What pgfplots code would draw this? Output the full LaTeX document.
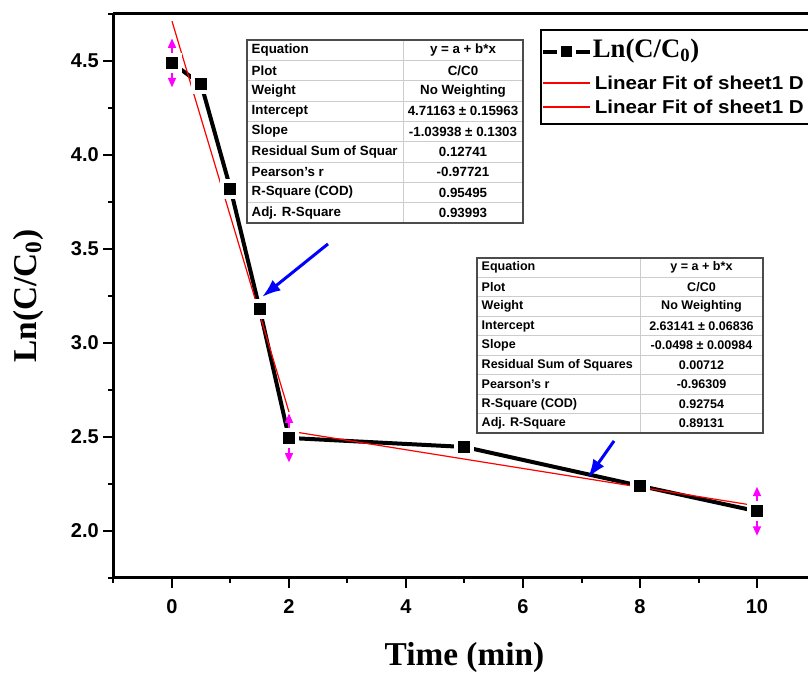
\documentclass[border=0pt]{standalone}
\usepackage{fontspec}
\setmainfont{Liberation Sans}
\newfontfamily\tnr{Liberation Serif}
\newfontfamily\legfont[FakeStretch=1.1]{Liberation Sans}
\usepackage{pgfplots}
\pgfplotsset{compat=1.18}
\usetikzlibrary{arrows.meta}
\definecolor{errmag}{RGB}{255,0,255}
\definecolor{ptrblue}{RGB}{0,0,255}
\definecolor{fitred}{RGB}{255,0,0}

% one table row: left x, mid x, top y, row height, index, left text, right text, font
\newcommand\trow[8]{%
  \node[anchor=west,font=#8] at (#1,{#3+(#5-0.5)*#4}) {#6};
  \node[font=#8] at (#2,{#3+(#5-0.5)*#4}) {#7};}

\begin{document}
\begin{tikzpicture}
\begin{axis}[
    scale only axis,
    width=526.5pt, height=423pt,
    xmin=-1, xmax=11, ymin=1.75, ymax=4.75,
    axis x line*=box, axis y line*=left,
    xtick pos=left, ytick pos=left,
    tick align=outside,
    axis line style={line width=2.25pt},
    major tick length=7.5pt, minor tick length=3.75pt,
    major tick style={black, line width=1.5pt},
    minor tick style={black, line width=1.5pt},
    xtick={0,2,4,6,8,10},
    minor xtick={-1,1,3,5,7,9,11},
    ytick={2,2.5,3,3.5,4,4.5},
    minor ytick={1.75,2.25,2.75,3.25,3.75,4.25,4.75},
    /pgf/number format/assume math mode=true,
    ticklabel style={font=\fontsize{15}{15}\selectfont\bfseries},
    yticklabel style={/pgf/number format/.cd, fixed, fixed zerofill, precision=1},
    xticklabel style={yshift=-5pt},
    xlabel={\tnr\bfseries Time (min)},
    ylabel={\tnr\bfseries Ln(C/C\textsubscript{0})},
    every axis x label/.style={at={(axis description cs:0.5,-0.1418)}, anchor=center,
        font=\fontsize{25}{25}\selectfont},
    every axis y label/.style={at={(axis description cs:-0.1216,0.5)}, rotate=90, anchor=center,
        font=\fontsize{25}{25}\selectfont},
]
\addplot[black, line width=3pt, mark=square*, mark size=6pt,
    mark options={fill=black, draw=white, line width=3pt, solid}]
    coordinates {
    (0,4.49) (0.5,4.375) (1,3.82) (1.5,3.18) (2,2.495) (5,2.447) (8,2.24) (10,2.105)
};
% linear fits
\addplot[fitred, line width=0.9pt] coordinates {(0,4.71163) (2,2.63287)};
\addplot[fitred, line width=0.9pt] coordinates {(2,2.53181) (10,2.13341)};

% magenta double arrows
\addplot[errmag, line width=1pt, -{Triangle[width=6pt,length=7pt]},
    quiver={u=0, v=\thisrow{v}}] table[x=x, y=y] {
x   y     v
0   4.49  0.13
0   4.49  -0.13
2   2.495 0.13
2   2.495 -0.13
10  2.105 0.13
10  2.105 -0.13
};
% blue pointer arrows
\addplot[ptrblue, line width=2.25pt, -{Latex[length=14pt,width=10pt]},
    quiver={u=\thisrow{u}, v=\thisrow{v}}] table[x=x, y=y] {
x      y      u       v
2.667  3.527  -1.127  -0.282
7.556  2.479  -0.446  -0.197
};
\end{axis}

\begin{scope}[shift={(-85.125pt,433.5pt)}, x=0.75pt, y=-0.75pt]
  % legend (cut by the right edge, as in the original)
  \draw[black, line width=1.2pt, fill=white] (541,30) rectangle (840,124);
  \draw[black, line width=3pt] (543,52) -- (590,52);
  \fill[white] (557,42.5) rectangle (576,61.5);
  \fill[black] (561,46.5) rectangle (572,57.5);
  \node[anchor=west, inner sep=2pt, font=\tnr\bfseries\fontsize{20}{22}\selectfont] at (590,51) {Ln(C/C\textsubscript{0})};
  \draw[fitred, line width=0.9pt] (543,83) -- (590,83);
  \node[anchor=west, inner sep=2pt, font=\legfont\bfseries\fontsize{14}{18}\selectfont] at (592,83) {Linear Fit of sheet1 D};
  \draw[fitred, line width=0.9pt] (543,107) -- (590,107);
  \node[anchor=west, inner sep=2pt, font=\legfont\bfseries\fontsize{14}{18}\selectfont] at (592,107) {Linear Fit of sheet1 D};
  % table 1
  \foreach \i in {1,...,8} \draw[gray!40, line width=0.6pt] (247,{40+\i*20.33}) -- (523,{40+\i*20.33});
  \draw[gray!40, line width=0.6pt] (403,40) -- (403,223);
  \draw[black!70, line width=1.2pt] (247,40) rectangle (523,223);
  \def\fa{\fontsize{10}{11}\selectfont\bfseries}
  \trow{247}{463}{40}{20.33}{1}{Equation}{y = a + b*x}{\fa}
  \trow{247}{463}{40}{20.33}{2}{Plot}{C/C0}{\fa}
  \trow{247}{463}{40}{20.33}{3}{Weight}{No Weighting}{\fa}
  \trow{247}{463}{40}{20.33}{4}{Intercept}{4.71163 ± 0.15963}{\fa}
  \trow{247}{463}{40}{20.33}{5}{Slope}{-1.03938 ± 0.1303}{\fa}
  \trow{247}{463}{40}{20.33}{6}{Residual Sum of Squar}{0.12741}{\fa}
  \trow{247}{463}{40}{20.33}{7}{Pearson's r}{-0.97721}{\fa}
  \trow{247}{463}{40}{20.33}{8}{R-Square (COD)}{0.95495}{\fa}
  \trow{247}{463}{40}{20.33}{9}{Adj. R-Square}{0.93993}{\fa}
  % table 2
  \foreach \i in {1,...,8} \draw[gray!40, line width=0.6pt] (477,{258+\i*19.44}) -- (763,{258+\i*19.44});
  \draw[gray!40, line width=0.6pt] (640,258) -- (640,433);
  \draw[black!70, line width=1.2pt] (477,258) rectangle (763,433);
  \def\fb{\fontsize{9.4}{10}\selectfont\bfseries}
  \trow{477}{701.5}{258}{19.44}{1}{Equation}{y = a + b*x}{\fb}
  \trow{477}{701.5}{258}{19.44}{2}{Plot}{C/C0}{\fb}
  \trow{477}{701.5}{258}{19.44}{3}{Weight}{No Weighting}{\fb}
  \trow{477}{701.5}{258}{19.44}{4}{Intercept}{2.63141 ± 0.06836}{\fb}
  \trow{477}{701.5}{258}{19.44}{5}{Slope}{-0.0498 ± 0.00984}{\fb}
  \trow{477}{701.5}{258}{19.44}{6}{Residual Sum of Squares}{0.00712}{\fb}
  \trow{477}{701.5}{258}{19.44}{7}{Pearson's r}{-0.96309}{\fb}
  \trow{477}{701.5}{258}{19.44}{8}{R-Square (COD)}{0.92754}{\fb}
  \trow{477}{701.5}{258}{19.44}{9}{Adj. R-Square}{0.89131}{\fb}
\end{scope}

\pgfresetboundingbox
\useasboundingbox (-85.125pt,-74.25pt) rectangle (520.875pt,433.5pt);
\end{tikzpicture}
\end{document}
